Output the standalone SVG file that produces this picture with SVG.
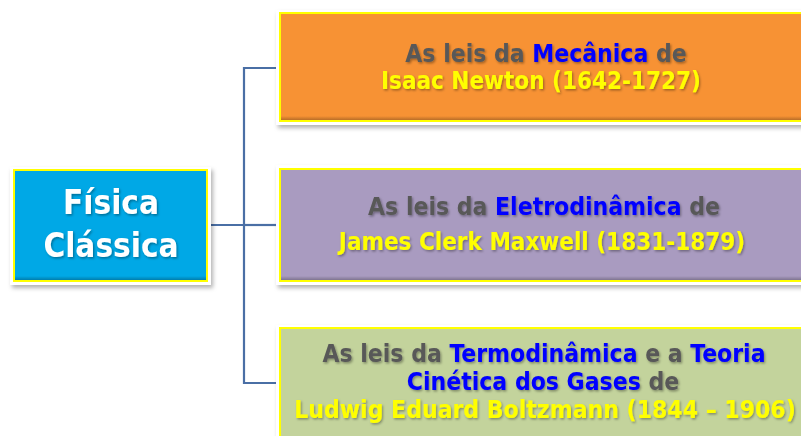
<svg xmlns="http://www.w3.org/2000/svg" width="801" height="436" viewBox="0 0 801 436">
  <defs>
    <filter id="frameShadow" x="-10%" y="-20%" width="130%" height="150%">
      <feDropShadow dx="2" dy="3" stdDeviation="2.2" flood-color="#000" flood-opacity="0.3"/>
    </filter>
    <filter id="txtShadow" x="-5%" y="-20%" width="115%" height="150%">
      <feDropShadow dx="1.2" dy="1.5" stdDeviation="1" flood-color="#000" flood-opacity="0.35"/>
    </filter>
    <linearGradient id="bevel" x1="0" y1="0" x2="0" y2="1">
      <stop offset="0" stop-color="#000" stop-opacity="0"/>
      <stop offset="1" stop-color="#000" stop-opacity="0.25"/>
    </linearGradient>
  </defs>
  <style>
    .frame { fill: #ffffff; filter: url(#frameShadow); }
    .plate { stroke: #ffff00; stroke-width: 2; }
    .edge { fill: url(#bevel); }
    .lbl { font-family: 'DejaVu Sans Condensed', 'DejaVu Sans', sans-serif; font-stretch: condensed; font-weight: bold; text-anchor: middle; filter: url(#txtShadow); }
    .g { fill: #595959; }
    .b { fill: #0000ff; }
    .y { fill: #ffff00; }
    .w { fill: #ffffff; }
    .link { fill: none; stroke: #4a6fa5; stroke-width: 2.2; }
  </style>

  <!-- tree connectors -->
  <g id="connectors">
    <path class="link" d="M211 225 H244"/>
    <path class="link" d="M276 68 H244 V383 H276"/>
    <path class="link" d="M244 225 H276"/>
  </g>

  <!-- root -->
  <g id="fisica-classica">
    <rect class="frame" x="10" y="167" width="201" height="118"/>
    <rect class="plate" x="14" y="170" width="193" height="111" fill="#00a8e6"/>
    <rect class="edge" x="15" y="276" width="191" height="4"/>
    <text class="lbl w" font-size="33" x="111" y="214">Física</text>
    <text class="lbl w" font-size="33" x="111" y="257">Clássica</text>
  </g>

  <!-- Newton -->
  <g id="mecanica">
    <rect class="frame" x="276" y="10" width="540" height="115"/>
    <rect class="plate" x="280" y="13" width="540" height="108" fill="#f79234"/>
    <rect class="edge" x="281" y="116" width="538" height="4"/>
    <text class="lbl" font-size="24.5" x="546" y="62"><tspan class="g">As leis da </tspan><tspan class="b">Mecânica</tspan><tspan class="g"> de</tspan></text>
    <text class="lbl y" font-size="24" x="541" y="89">Isaac Newton (1642-1727)</text>
  </g>

  <!-- Maxwell -->
  <g id="eletrodinamica">
    <rect class="frame" x="276" y="165" width="540" height="120"/>
    <rect class="plate" x="280" y="169" width="540" height="112" fill="#a99bc0"/>
    <rect class="edge" x="281" y="276" width="538" height="4"/>
    <text class="lbl" font-size="24.5" x="544" y="215"><tspan class="g">As leis da </tspan><tspan class="b">Eletrodinâmica</tspan><tspan class="g"> de</tspan></text>
    <text class="lbl y" font-size="24" x="542" y="250">James Clerk Maxwell (1831-1879)</text>
  </g>

  <!-- Boltzmann -->
  <g id="termodinamica">
    <rect class="frame" x="276" y="325" width="540" height="120"/>
    <rect class="plate" x="280" y="328" width="540" height="115" fill="#c3d39c"/>
    <text class="lbl" font-size="24.5" x="544" y="362"><tspan class="g">As leis da </tspan><tspan class="b">Termodinâmica</tspan><tspan class="g"> e a </tspan><tspan class="b">Teoria</tspan></text>
    <text class="lbl" font-size="24.5" x="543" y="390"><tspan class="b">Cinética dos Gases</tspan><tspan class="g"> de</tspan></text>
    <text class="lbl y" font-size="24.5" x="545" y="418">Ludwig Eduard Boltzmann (1844 – 1906)</text>
  </g>
</svg>
